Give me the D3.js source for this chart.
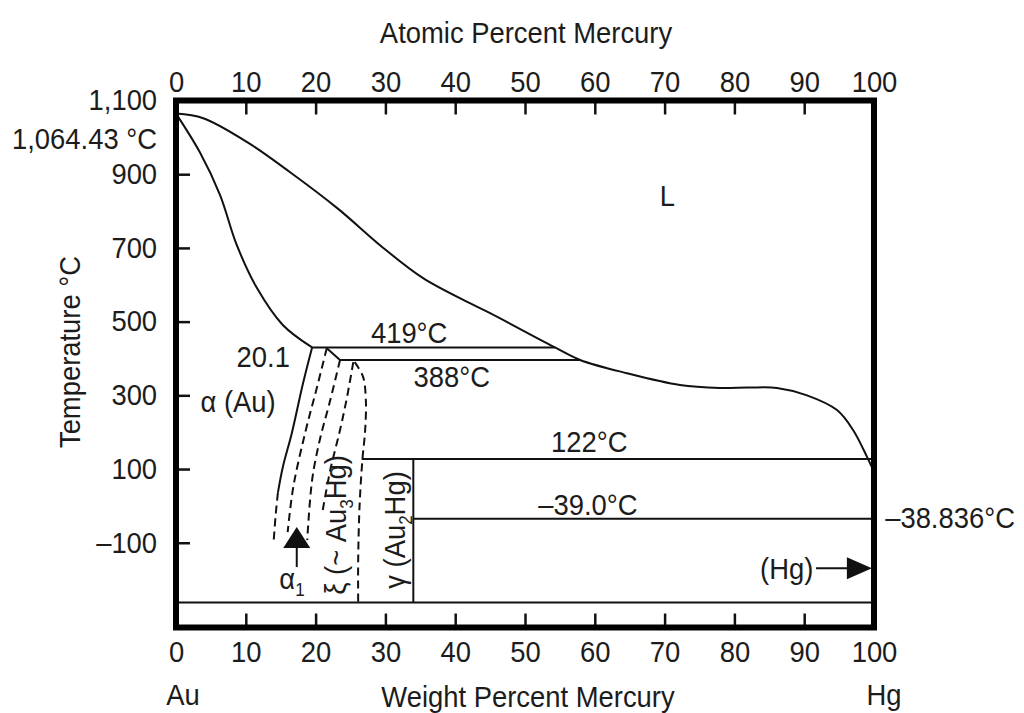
<!DOCTYPE html>
<html>
<head>
<meta charset="utf-8">
<script src="https://cdn.jsdelivr.net/npm/d3@7"></script>
<style>
body{margin:0;background:#fff;}
svg text{font-family:"Liberation Sans",Arial,Helvetica,sans-serif;fill:#1c1c1c;}
</style>
</head>
<body>
<script>
(function(){
//axis ticks
var weightTicks = [0,10,20,30,40,50,60,70,80,90,100];
var atomicTicks = [0,10,20,30,40,50,60,70,80,90,100];
var tempTicks = [1100,900,700,500,300,100,-100];

//phase boundaries, [wt% Hg, temperature °C]
var liquidus = [[0,1064.43],[3.9,1052],[10.2,987],[16.3,906],[23.1,808],[29.7,700],[35.4,618],
    [42.1,550],[45.0,523],[54.3,430],[57.9,396],[64.6,360],[72.2,328],[77.9,320],[82,321],
    [86.1,320],[90.4,300],[94.7,260],[97.0,206],[99.0,133],[100,92]];
var solidus = [[0,1064.43],[3.4,960],[6.3,844],[8.7,708],[11.6,591],[15.3,491],[19.5,430]];
var alphaSolvus = [[19.5,430],[18.2,333],[16.6,198],[15.3,105],[14.6,36]];
var xiPeak = [[21.6,428],[23.5,396]];

//dashed (uncertain) boundaries
var dashedLines = [
    [[14.6,36],[14.3,-20],[14.0,-93]],
    [[21.6,428],[20.2,322],[18.5,198],[16.8,51],[16.0,-71]],
    [[23.5,396],[22.1,287],[20.6,179],[19.5,70],[18.8,-93]],
    [[25.4,390],[24.5,295],[23.5,206],[22.1,97],[20.9,-25]],
    [[25.6,390],[26.8,350],[27.2,287],[27.1,206],[26.7,124],[26.3,0],[26.1,-147],[26.1,-261]]
];

//isotherms [temperature, from wt%, to wt%]
var isotherms = [[430,19.5,54.3],[396,23.5,57.9],[127,26.6,100],[-35,34.0,100],[-262,0,100]];
//gamma (Au2Hg) line compound [wt%, from T, to T]
var gammaLine = [34.0,127,-262];

var width = 1024, height = 713;
var FS = 29, SX = 0.945;

var svg = d3.select("body").append("svg")
    .attr("width", width)
    .attr("height", height);

var x = d3.scaleLinear().domain([0,100]).range([176,874]);
var y = d3.scaleLinear().domain([-330,1100]).range([627.5,100.5]);

var line = d3.line()
    .x(function(d){ return x(d[0]); })
    .y(function(d){ return y(d[1]); })
    .curve(d3.curveCatmullRom.alpha(0.5));

//axes
var top = svg.append("g").attr("transform","translate(0,"+y(1100)+")")
    .call(d3.axisTop(x).tickValues(atomicTicks).tickSizeInner(-14).tickSizeOuter(0).tickPadding(9));
var bottom = svg.append("g").attr("transform","translate(0,"+y(-330)+")")
    .call(d3.axisBottom(x).tickValues(weightTicks).tickSizeInner(-14).tickSizeOuter(0).tickPadding(14));
var left = svg.append("g").attr("transform","translate("+x(0)+",0)")
    .call(d3.axisLeft(y).tickValues(tempTicks).tickSizeInner(-14).tickSizeOuter(0).tickPadding(20)
        .tickFormat(function(d){ return d3.format(",")(d).replace("\u2212","\u2013"); }));

[top,bottom,left].forEach(function(g){
    g.select(".domain").remove();
    g.selectAll(".tick line").attr("stroke","#111").attr("stroke-width",2.5);
    g.selectAll(".tick text").attr("font-size",FS).attr("fill","#1c1c1c")
        .attr("font-family","Liberation Sans, Arial, sans-serif")
        .attr("transform","scale("+SX+",1)");
});

//phase lines
var curves = svg.append("g").attr("fill","none").attr("stroke","#111").attr("stroke-width",2);
[liquidus, solidus, alphaSolvus, xiPeak].forEach(function(c){
    curves.append("path").attr("d", line(c));
});
dashedLines.forEach(function(c){
    curves.append("path").attr("d", line(c)).attr("stroke-dasharray","8,5");
});
isotherms.forEach(function(t){
    curves.append("line")
        .attr("x1", x(t[1])).attr("x2", x(t[2]))
        .attr("y1", y(t[0])).attr("y2", y(t[0]));
});
curves.append("line")
    .attr("x1", x(gammaLine[0])).attr("x2", x(gammaLine[0]))
    .attr("y1", y(gammaLine[1])).attr("y2", y(gammaLine[2]));

//arrows
var arrows = svg.append("g").attr("stroke","#111").attr("fill","#111");
arrows.append("line").attr("x1",x(17.3)).attr("x2",x(17.3))
    .attr("y1",y(-105)).attr("y2",y(-166)).attr("stroke-width",2);
arrows.append("path").attr("stroke","none")
    .attr("d","M"+x(17.3)+","+y(-57)+"l13.5,21h-27z");
arrows.append("line").attr("x1",x(91.7)).attr("x2",x(96.5))
    .attr("y1",y(-169)).attr("y2",y(-169)).attr("stroke-width",2);
arrows.append("path").attr("stroke","none")
    .attr("d","M"+x(99.7)+","+y(-169)+"l-25,-11v22z");

//text helper; parts: strings or {sub:"..."}
function label(px, py, parts, anchor, rot){
    var t = svg.append("text")
        .attr("transform","translate("+px+","+py+")"+(rot ? " rotate(-90)" : "")+" scale("+SX+",1)")
        .attr("text-anchor", anchor || "start")
        .attr("font-size", FS);
    var shift = 0;
    parts.forEach(function(p){
        if (typeof p === "string"){
            t.append("tspan").attr("dy", -shift).text(p);
            shift = 0;
        } else {
            t.append("tspan").attr("font-size", 18).attr("dy", 7).text(p.sub);
            shift = 7;
        }
    });
    return t;
}

label(526, 43, ["Atomic Percent Mercury"], "middle");
label(528, 707, ["Weight Percent Mercury"], "middle");
label(183, 705, ["Au"], "middle");
label(884, 705, ["Hg"], "middle");
label(157, 149, ["1,064.43 \u00B0C"], "end");
label(80, 352, ["Temperature \u00B0C"], "middle", true);

label(x(70.4), y(814), ["L"], "middle");
label(x(33.4), y(442), ["419\u00B0C"], "middle");
label(x(39.5), y(323), ["388\u00B0C"], "middle");
label(x(12.5), y(377), ["20.1"], "middle");
label(x(8.9), y(255), ["\u03B1 (Au)"], "middle");
label(x(59.2), y(146), ["122\u00B0C"], "middle");
label(x(59.0), y(-25), ["\u201339.0\u00B0C"], "middle");
label(x(101.6), y(-60), ["\u201338.836\u00B0C"], "start");
label(x(91.3), y(-198), ["(Hg)"], "end");
label(x(14.8), y(-226), ["\u03B1", {sub:"1"}], "start");
label(346, 525, ["\u03BE (~ Au", {sub:"3"}, "Hg)"], "middle", true);
label(405, 530, ["\u03B3 (Au", {sub:"2"}, "Hg)"], "middle", true);

//frame
svg.append("rect")
    .attr("x", x(0)).attr("y", y(1100))
    .attr("width", x(100)-x(0)).attr("height", y(-330)-y(1100))
    .attr("fill","none").attr("stroke","#000").attr("stroke-width",6);
})();
</script>
</body>
</html>
